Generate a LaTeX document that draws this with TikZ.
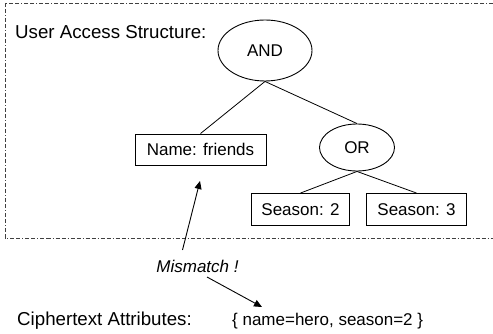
\documentclass[tikz,border=0pt]{standalone}
\usepackage{fontspec}
\setmainfont{Liberation Sans}
\usetikzlibrary{shapes.geometric,arrows.meta}
\newcommand{\titlefont}{\fontsize{18.7}{22}\selectfont}
\newcommand{\nodefont}{\fontsize{17}{20}\selectfont}

\begin{document}
\begin{tikzpicture}[x=1pt, y=-1pt,
  attr/.style={rectangle, draw, line width=0.9pt, font=\nodefont,
               minimum height=32pt, inner xsep=10pt},
  gate/.style={ellipse, draw, line width=0.9pt, font=\nodefont, inner sep=0pt},
  edge/.style={line width=0.8pt},
  arrow/.style={-{Triangle[length=8pt,width=7pt]}, line width=0.9pt},
  caption/.style={font=\titlefont, anchor=base west, inner sep=0pt},
  frame/.style={draw=black!75, line width=0.8pt,
                dash pattern=on 4pt off 2pt on 4pt off 2pt on 1pt off 2pt},
]
  \useasboundingbox (0,0) rectangle (493,334);
  \clip (0,0) rectangle (493,334);

  \draw[frame] (5,3.5) rectangle (520,238);

  \node[caption] (user) at (15,39) {User Access Structure:};
  \node[gate, minimum width=94pt, minimum height=61pt] (and) at (265,50.5) {AND};
  \node[attr, minimum width=131pt, minimum height=31pt] (name) at (200.5,149.5) {Name: friends};
  \node[gate, minimum width=75pt, minimum height=47pt] (or) at (357,147.5) {OR};
  \node[attr, minimum width=97pt] (s2) at (300.5,209.5) {Season: 2};
  \node[attr, minimum width=100pt] (s3) at (416.5,209.5) {Season: 3};

  \draw[edge] (and.south) -- (name.north);
  \draw[edge] (and.south) -- (or.north);
  \draw[edge] (or.south) -- (s2.north);
  \draw[edge] (or.south) -- (s3.north);

  \node[font=\nodefont\itshape, inner sep=0pt] (mismatch) at (197.5,266) {Mismatch !};
  \coordinate (fromup) at (182.5,250);
  \coordinate (totree) at (200,181);
  \coordinate (fromdown) at (207,277);
  \coordinate (toattr) at (262,307);
  \draw[arrow] (fromup) -- (totree);
  \draw[arrow] (fromdown) -- (toattr);

  \node[caption] (cipher) at (17,325) {Ciphertext Attributes:};
  \node[font=\nodefont, anchor=base west, inner sep=0pt] (attrs) at (232,325) {\{ name=hero, season=2 \}};
\end{tikzpicture}
\end{document}
